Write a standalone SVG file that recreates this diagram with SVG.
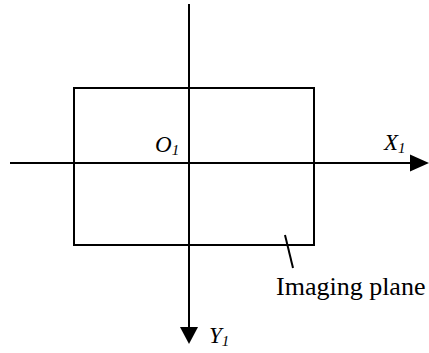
<svg xmlns="http://www.w3.org/2000/svg" width="429" height="353" viewBox="0 0 429 353">
<style>
.ln{stroke:#000;stroke-width:2;fill:none}
.ah{fill:#000;stroke:none}
.lab{font-family:"Liberation Serif","Times New Roman",serif;font-style:italic;font-size:23px;fill:#000}
.sub{font-size:15px}
.txt{font-family:"Liberation Serif","Times New Roman",serif;font-size:26px;fill:#000}
</style>
<rect x="0" y="0" width="429" height="353" fill="#fff"/>
<g id="imaging-plane">
<rect class="ln" x="74" y="88" width="240" height="157"/>
</g>
<g id="connectors">
<line class="ln" x1="10" y1="163" x2="412" y2="163"/>
<polygon class="ah" points="410,154.5 429,163 410,171.5"/>
<line class="ln" x1="189" y1="4" x2="189" y2="329"/>
<polygon class="ah" points="180,327 198,327 189,344"/>
<line class="ln" x1="285" y1="235" x2="293" y2="268"/>
</g>
<g id="label-O1"><text class="lab" x="155" y="152">O<tspan class="sub" dy="3">1</tspan></text></g>
<g id="label-X1"><text class="lab" x="384" y="150">X<tspan class="sub" dy="3">1</tspan></text></g>
<g id="label-Y1"><text class="lab" x="209" y="343">Y<tspan class="sub" dy="3">1</tspan></text></g>
<g id="label-imaging"><text class="txt" x="276" y="295">Imaging plane</text></g>
</svg>
